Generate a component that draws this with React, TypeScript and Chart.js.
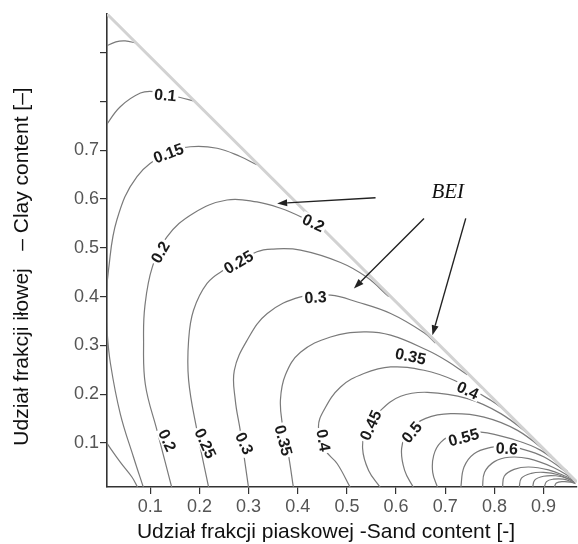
import React, { useEffect, useRef } from 'react';
import { Chart, registerables } from 'chart.js';

Chart.register(...registerables);

type P = [number, number];

// Axis ticks
const xTicks = [0.1, 0.2, 0.3, 0.4, 0.5, 0.6, 0.7, 0.8, 0.9];
const yTicks = [0.1, 0.2, 0.3, 0.4, 0.5, 0.6, 0.7, 0.8, 0.9];
const yLabelledMax = 0.7;

const xTitle = 'Udział frakcji piaskowej -Sand content [-]';
const yTitle = 'Udział frakcji iłowej   – Clay content [–]';
const noteText = 'BEI';

// Triangle boundary (sand + clay = 1)
const boundary: P[] = [[0.012, 0.979], [0.968, 0.02]];

// BEI contour lines (sand, clay)
const bei005: P[] = [[0.073, 0.919], [0.049, 0.924], [0.03, 0.922], [0.008, 0.912]];
const bei010: P[] = [[0.188, 0.801], [0.161, 0.808], [0.13, 0.813], [0.107, 0.82], [0.08, 0.817], [0.039, 0.789], [0.008, 0.748]];
const bei010b: P[] = [[0.008, 0.105], [0.039, 0.061], [0.063, 0.03], [0.075, 0.008]];
const bei015: P[] = [[0.317, 0.67], [0.283, 0.687], [0.236, 0.704], [0.1815, 0.707], [0.134, 0.694], [0.073, 0.646], [0.032, 0.557], [0.015, 0.454], [0.01, 0.386], [0.012, 0.331], [0.019, 0.263], [0.039, 0.16], [0.066, 0.071], [0.0864, 0.008]];
const bei020: P[] = [[0.45, 0.54], [0.406, 0.5636], [0.365, 0.581], [0.317, 0.594], [0.256, 0.598], [0.188, 0.571], [0.134, 0.5226], [0.104, 0.46], [0.089, 0.38], [0.0864, 0.311], [0.09, 0.22], [0.1137, 0.126], [0.144, 0.008]];
const bei025: P[] = [[0.585, 0.4], [0.54, 0.44], [0.487, 0.47], [0.4056, 0.4953], [0.35, 0.4975], [0.317, 0.4918], [0.249, 0.454], [0.2155, 0.427], [0.188, 0.372], [0.178, 0.311], [0.178, 0.229], [0.195, 0.126], [0.219, 0.008]];
const bei030: P[] = [[0.68, 0.305], [0.657, 0.326], [0.589, 0.3654], [0.521, 0.389], [0.467, 0.403], [0.4056, 0.3995], [0.338, 0.3654], [0.297, 0.3107], [0.271, 0.249], [0.273, 0.1875], [0.283, 0.126], [0.3, 0.008]];
const bei035: P[] = [[0.745, 0.24], [0.7044, 0.2676], [0.6637, 0.29], [0.5889, 0.321], [0.5345, 0.3277], [0.4667, 0.3174], [0.4056, 0.286], [0.375, 0.2399], [0.3648, 0.1886], [0.3689, 0.1373], [0.3811, 0.0758], [0.3913, 0.008]];
const bei040: P[] = [[0.83, 0.16], [0.7926, 0.1877], [0.7179, 0.2286], [0.6568, 0.2491], [0.5889, 0.2559], [0.5345, 0.2424], [0.4871, 0.2149], [0.4531, 0.1671], [0.4422, 0.1322], [0.4565, 0.085], [0.4803, 0.0577], [0.5074, 0.008]];
const bei045: P[] = [[0.88, 0.11], [0.813, 0.1603], [0.7452, 0.1911], [0.6637, 0.204], [0.6093, 0.1958], [0.5686, 0.1671], [0.54, 0.1302], [0.5319, 0.0891], [0.5441, 0.044], [0.5686, 0.008]];
const bei050: P[] = [[0.9149, 0.075], [0.847, 0.126], [0.779, 0.1533], [0.7111, 0.1603], [0.6602, 0.1507], [0.6256, 0.126], [0.6113, 0.0891], [0.6174, 0.044], [0.6358, 0.008]];
const bei055: P[] = [[0.9489, 0.042], [0.8945, 0.085], [0.8334, 0.109], [0.7723, 0.1226], [0.7214, 0.1199], [0.6908, 0.1014], [0.6765, 0.0748], [0.6745, 0.0399], [0.6847, 0.008]];
const bei060: P[] = [[0.955, 0.034], [0.9012, 0.0713], [0.8537, 0.0885], [0.8232, 0.0932], [0.7926, 0.0912], [0.7586, 0.0783], [0.7382, 0.0508], [0.7315, 0.008]];
const bei065: P[] = [[0.958, 0.028], [0.92, 0.05], [0.87, 0.068], [0.83, 0.071], [0.8, 0.062], [0.78, 0.04], [0.7757, 0.008]];
const bei070: P[] = [[0.96, 0.024], [0.945, 0.032], [0.91, 0.045], [0.87, 0.051], [0.84, 0.046], [0.82, 0.032], [0.8165, 0.008]];
const bei075: P[] = [[0.962, 0.021], [0.93, 0.035], [0.9, 0.04], [0.875, 0.038], [0.855, 0.028], [0.8503, 0.008]];
const bei080: P[] = [[0.963, 0.019], [0.95, 0.027], [0.925, 0.033], [0.9, 0.032], [0.882, 0.024], [0.8776, 0.008]];
const bei085: P[] = [[0.964, 0.018], [0.94, 0.026], [0.92, 0.026], [0.906, 0.021], [0.9012, 0.008]];
const bei090: P[] = [[0.965, 0.017], [0.955, 0.02], [0.94, 0.021], [0.926, 0.018], [0.9216, 0.008]];

const contours: P[][] = [bei005, bei010, bei010b, bei015, bei020, bei025, bei030, bei035, bei040, bei045, bei050, bei055, bei060, bei065, bei070, bei075, bei080, bei085, bei090];

// Contour labels: text, sand, clay, rotation (deg)
const labelText = ['0.1', '0.15', '0.2', '0.25', '0.2', '0.3', '0.35', '0.4', '0.45', '0.5', '0.55', '0.6', '0.2', '0.25', '0.3', '0.35', '0.4'];
const labelSand = [0.1307, 0.137, 0.1204, 0.2793, 0.432, 0.4361, 0.6295, 0.7458, 0.5481, 0.6317, 0.7376, 0.8252, 0.1347, 0.2121, 0.2915, 0.3709, 0.4524];
const labelClay = [0.813, 0.694, 0.4912, 0.4707, 0.5512, 0.3989, 0.2778, 0.2081, 0.1363, 0.122, 0.1117, 0.0891, 0.1055, 0.0994, 0.0994, 0.1055, 0.1055];
const labelRot = [5, -20, -60, -30, 25, -3, 12, 25, -65, -50, -15, 3, 65, 65, 65, 75, 80];

// BEI arrows: [startSand, startClay, tipSand, tipClay]
const arrows: number[][] = [
  [0.5582, 0.6027, 0.3581, 0.5909],
  [0.6568, 0.5603, 0.5142, 0.4167],
  [0.7417, 0.5603, 0.6739, 0.3209],
];
const notePos: P = [0.7051, 0.614];

const overlay = {
  id: 'overlay',
  afterDatasetsDraw(chart: any) {
    const { ctx, chartArea } = chart;
    const xs = chart.scales.x;
    const ys = chart.scales.y;
    ctx.save();
    ctx.font = 'bold 16px "Liberation Sans", Arial, sans-serif';
    ctx.textAlign = 'center';
    ctx.textBaseline = 'middle';
    labelText.forEach((t, i) => {
      const px = xs.getPixelForValue(labelSand[i]);
      const py = ys.getPixelForValue(labelClay[i]);
      ctx.save();
      ctx.translate(px, py);
      ctx.rotate((labelRot[i] * Math.PI) / 180);
      const w = ctx.measureText(t).width;
      ctx.fillStyle = '#ffffff';
      ctx.fillRect(-w / 2 - 2, -7, w + 4, 14);
      ctx.fillStyle = '#1a1a1a';
      ctx.fillText(t, 0, 1);
      ctx.restore();
    });
    // arrows
    ctx.strokeStyle = '#222';
    ctx.fillStyle = '#222';
    ctx.lineWidth = 1.4;
    arrows.forEach((a) => {
      const x0 = xs.getPixelForValue(a[0]);
      const y0 = ys.getPixelForValue(a[1]);
      const x1 = xs.getPixelForValue(a[2]);
      const y1 = ys.getPixelForValue(a[3]);
      const ang = Math.atan2(y1 - y0, x1 - x0);
      const hl = 10;
      const hw = 3.5;
      const bx = x1 - hl * Math.cos(ang);
      const by = y1 - hl * Math.sin(ang);
      ctx.beginPath();
      ctx.moveTo(x0, y0);
      ctx.lineTo(bx, by);
      ctx.stroke();
      ctx.beginPath();
      ctx.moveTo(x1, y1);
      ctx.lineTo(bx + hw * Math.sin(ang), by - hw * Math.cos(ang));
      ctx.lineTo(bx - hw * Math.sin(ang), by + hw * Math.cos(ang));
      ctx.closePath();
      ctx.fill();
    });
    // BEI note
    ctx.font = 'italic 21px "Liberation Serif", "Times New Roman", serif';
    ctx.fillStyle = '#111';
    ctx.fillText(noteText, xs.getPixelForValue(notePos[0]), ys.getPixelForValue(notePos[1]));
    // axis titles
    ctx.font = '21px "Liberation Sans", Arial, sans-serif';
    ctx.fillStyle = '#111';
    ctx.fillText(xTitle, chartArea.left + 219, chartArea.bottom + 45);
    ctx.save();
    ctx.translate(22, (chartArea.top + chartArea.bottom) / 2 + 16);
    ctx.rotate(-Math.PI / 2);
    ctx.fillText(yTitle, 0, 0);
    ctx.restore();
    ctx.restore();
  },
};

export default function App() {
  const ref = useRef<HTMLCanvasElement>(null);
  useEffect(() => {
    if (!ref.current) return;
    const datasets: any[] = [
      {
        data: boundary.map(([x, y]) => ({ x, y })),
        borderColor: '#d2d2d2',
        borderWidth: 3,
        pointRadius: 0,
        showLine: true,
        tension: 0,
      },
      ...contours.map((c) => ({
        data: c.map(([x, y]) => ({ x, y })),
        borderColor: '#7a7a7a',
        borderWidth: 1.2,
        pointRadius: 0,
        showLine: true,
        tension: 0.4,
      })),
    ];
    const chart = new Chart(ref.current, {
      type: 'scatter',
      data: { datasets },
      plugins: [overlay],
      options: {
        animation: false,
        responsive: false,
        events: [],
        layout: { padding: { top: 14, right: 1, left: 0, bottom: 0 } },
        plugins: { legend: { display: false }, tooltip: { enabled: false } },
        scales: {
          x: {
            type: 'linear',
            min: 0.012,
            max: 0.968,
            afterBuildTicks: (s: any) => {
              s.ticks = xTicks.map((v) => ({ value: v }));
            },
            afterFit: (s: any) => {
              s.height = 57;
            },
            ticks: {
              color: '#555',
              font: { size: 18, family: '"Liberation Sans", Arial, sans-serif' },
              padding: 2,
              maxRotation: 0,
              autoSkip: false,
              callback: (v: any) => String(Math.round(v * 10) / 10),
            },
            grid: { drawOnChartArea: false, drawTicks: true, tickLength: 7, color: '#333', lineWidth: 1.2 },
            border: { display: true, color: '#333', width: 1.6 },
          },
          y: {
            type: 'linear',
            min: 0.01,
            max: 0.979,
            afterBuildTicks: (s: any) => {
              s.ticks = yTicks.map((v) => ({ value: v }));
            },
            afterFit: (s: any) => {
              s.width = 107;
            },
            ticks: {
              color: '#555',
              font: { size: 18, family: '"Liberation Sans", Arial, sans-serif' },
              padding: 1,
              autoSkip: false,
              callback: (v: any) => (v > yLabelledMax + 0.01 ? '' : String(Math.round(v * 10) / 10)),
            },
            grid: { drawOnChartArea: false, drawTicks: true, tickLength: 7, color: '#333', lineWidth: 1.2 },
            border: { display: true, color: '#333', width: 1.6 },
          },
        },
      } as any,
    });
    return () => chart.destroy();
  }, []);
  return (
    <div style={{ position: 'fixed', left: 0, top: 0, width: 578, height: 544, background: '#fff' }}>
      <canvas ref={ref} width={578} height={544} style={{ display: 'block' }} />
    </div>
  );
}
